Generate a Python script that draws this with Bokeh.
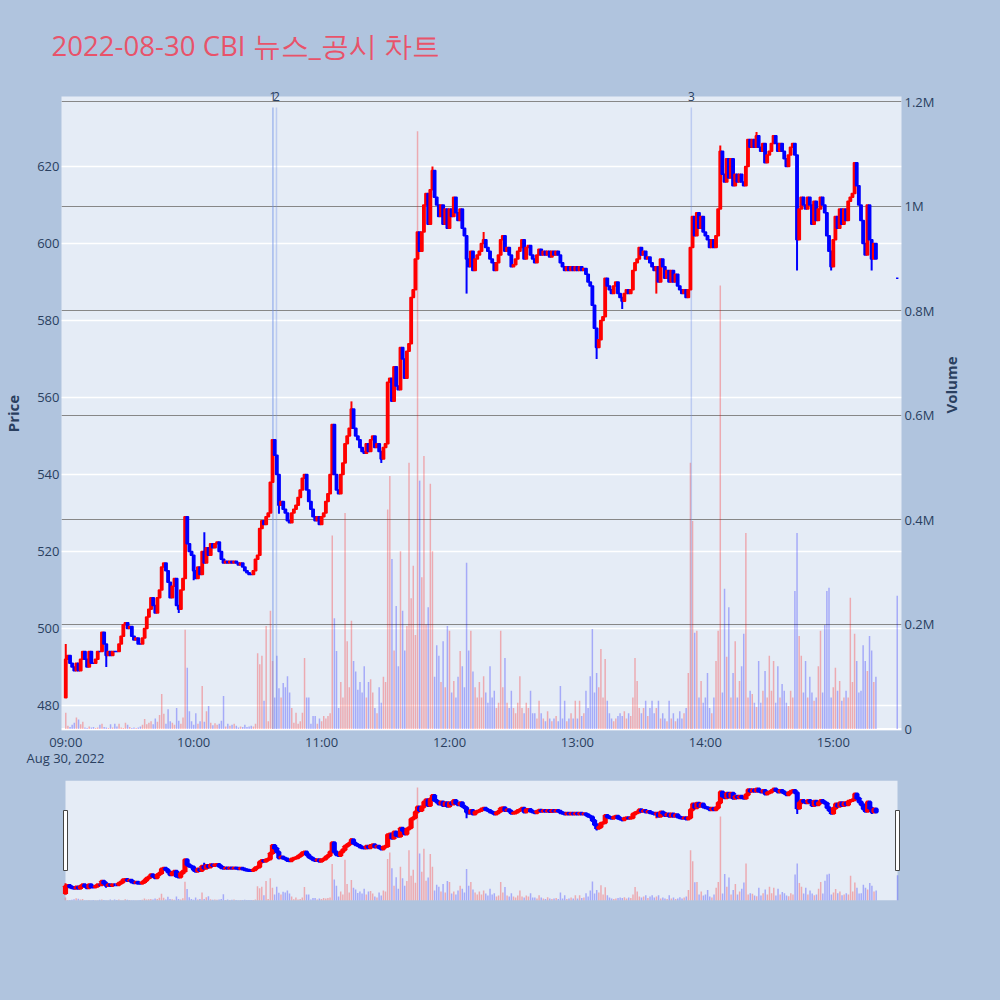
import math
import pandas as pd
from bokeh.plotting import figure
from bokeh.models import (ColumnDataSource, Range1d, LinearAxis, FixedTicker, Grid, Title,
                          DatetimeTickFormatter, BoxAnnotation, Span)
from bokeh.layouts import column
from bokeh.embed import file_html
from bokeh.resources import INLINE

# ---------------- data ----------------
TITLE = "2022-08-30 CBI 뉴스_공시 차트"
DATE_LABEL = "Aug 30, 2022"
session_start = "2022-08-30 09:00"     # first 1-minute bar
first_open = 482

# 1-minute closes, 09:00 .. 15:20
closes = [
    492, 493, 491, 490, 489, 491, 489, 492, 494, 492,
    490, 494, 491, 491, 492, 494, 494, 499, 496, 493,
    494, 493, 494, 494, 494, 496, 498, 501, 501.5, 500,
    500.5, 498, 497, 497.5, 496, 496, 497.5, 500, 503, 505,
    508, 506, 504, 508, 510, 516, 517, 515, 512, 508,
    511, 513, 506, 505, 510, 513, 529, 522, 520, 519,
    515, 513, 516, 514, 520, 517, 521, 519, 522, 521,
    522, 522.5, 520, 518, 517, 517.5, 517, 517.5, 517, 517.5,
    517, 516.5, 517, 516, 515, 514.5, 514, 514, 515, 518,
    519, 526, 528, 527, 529, 530, 538, 549, 545, 540,
    532, 533, 531, 530, 528, 527.5, 530, 531, 532, 534,
    536, 539, 540, 536, 533, 531, 529, 528, 529, 527,
    529, 530, 533, 535, 540, 553, 540, 536, 535, 540,
    543, 548, 550, 552, 557, 552, 550, 549, 547, 546,
    545.5, 548, 546, 549, 550, 547, 548, 546, 544, 547,
    548, 564, 565, 559, 568, 563, 562, 573, 570, 565,
    572, 574, 586, 588, 596, 603, 598, 603, 610, 613,
    605, 614, 619, 612, 610, 607, 610, 605, 609, 604,
    609, 607, 612, 608, 606, 609, 604, 602, 596, 594,
    598, 593, 596, 597, 598, 600, 601, 599, 598, 596,
    595, 593, 595, 597, 601, 602, 598, 599, 597, 594,
    594.5, 596, 598, 599, 601, 596, 599, 599.5, 597, 596,
    595, 597, 598.5, 597, 598, 597, 598, 596.5, 598, 597,
    598, 597, 595, 594, 593, 594, 593, 594, 593, 594,
    593, 594, 593, 593.5, 592, 590, 589, 584, 578, 573,
    575, 580, 581, 591, 589, 588, 587, 589, 590, 587,
    586, 585, 587, 588, 587, 588, 593, 595, 596, 599,
    597, 598, 596, 596.5, 595, 594, 593, 594, 590, 596,
    594, 591, 593, 590, 593, 590, 592, 589, 588, 587,
    588, 586, 588, 599, 607, 602, 608, 604, 607, 603,
    602, 601, 599, 601, 599, 602, 609, 624, 618, 616,
    622, 617, 622, 615, 618, 616, 618, 616, 615, 620,
    627, 625, 627, 625, 628, 625, 624, 626, 621, 623,
    624, 626, 628, 626, 624, 626, 624, 622, 620, 623,
    625, 626, 623, 601, 609, 612, 610, 609, 612, 610,
    605, 611, 606, 609, 612, 610, 608, 602, 598, 594,
    601, 607, 604, 609, 605, 609, 606, 611, 612, 613,
    621, 615, 610, 606, 600, 597, 610, 601, 596, 600,
    596,
]
# wick extremes that reach beyond the candle body (minute index -> price)
wick_high = {0: 496, 65: 525, 134: 559, 172: 620, 196: 603, 307: 625.5, 324: 629}
wick_low = {19: 490, 53: 504, 60: 512.5, 100: 529.8, 148: 543, 188: 587, 249: 570,
            261: 583, 277: 587, 343: 593, 359: 593, 378: 593}

# closing auction print
close_auction_time = "2022-08-30 15:30"
close_auction_price = 591
close_auction_volume_k = 255

# 1-minute volume, thousands of shares, 09:00 .. 15:20
volume_k = [
    31, 6, 4, 8, 12, 22, 18, 9, 14, 3,
    2, 5, 3, 4, 2, 3, 8, 10, 4, 3,
    2, 9, 3, 10, 5, 10, 3, 2, 12, 8,
    4, 2, 3, 2, 3, 5, 8, 19, 9, 12,
    15, 9, 20, 14, 27, 67, 29, 10, 38, 15,
    12, 8, 40, 16, 10, 22, 190, 117, 34, 15,
    8, 30, 10, 15, 82, 14, 34, 44, 12, 7,
    11, 8, 10, 16, 63, 5, 10, 6, 8, 10,
    6, 3, 5, 4, 8, 4, 5, 6, 5, 10,
    145, 124, 140, 54, 197, 15, 226, 130, 60, 140,
    78, 60, 88, 80, 101, 70, 40, 12, 31, 10,
    15, 31, 136, 60, 60, 10, 25, 25, 10, 20,
    15, 25, 20, 25, 30, 370, 212, 149, 40, 90,
    60, 413, 168, 80, 207, 130, 110, 75, 90, 70,
    120, 60, 90, 95, 70, 40, 30, 80, 50, 100,
    90, 420, 484, 325, 150, 235, 120, 340, 226, 150,
    197, 509, 250, 312, 180, 1143, 475, 290, 522, 200,
    233, 469, 340, 100, 160, 140, 90, 168, 80, 197,
    188, 70, 92, 60, 100, 149, 120, 80, 318, 150,
    188, 110, 80, 60, 90, 60, 101, 70, 50, 120,
    60, 73, 40, 50, 188, 80, 136, 50, 40, 73,
    40, 30, 50, 101, 40, 30, 50, 40, 73, 30,
    30, 20, 54, 30, 20, 15, 34, 20, 15, 20,
    25, 15, 82, 20, 54, 15, 20, 30, 20, 54,
    20, 54, 25, 30, 73, 40, 101, 191, 70, 107,
    80, 153, 60, 134, 54, 30, 20, 15, 20, 25,
    30, 25, 34, 20, 30, 25, 60, 136, 92, 40,
    30, 40, 54, 25, 40, 54, 30, 40, 54, 20,
    30, 20, 15, 54, 20, 30, 15, 20, 34, 20,
    30, 40, 107, 509, 398, 184, 188, 60, 92, 50,
    60, 107, 40, 30, 60, 130, 188, 848, 70, 268,
    138, 233, 60, 107, 168, 60, 92, 120, 182, 375,
    60, 73, 67, 50, 42, 130, 50, 73, 111, 60,
    140, 73, 130, 50, 120, 60, 86, 73, 50, 44,
    73, 60, 264, 375, 178, 140, 70, 130, 60, 100,
    70, 54, 60, 120, 188, 70, 199, 264, 270, 60,
    80, 117, 73, 92, 54, 60, 73, 60, 251, 90,
    182, 130, 70, 73, 160, 130, 111, 178, 150, 90,
    100,
]

# news / disclosure markers
news_times = ["2022-08-30 10:37:10", "2022-08-30 10:38:50", "2022-08-30 13:53:25"]
news_labels = ["1", "2", "3"]

price_ticks = [480, 500, 520, 540, 560, 580, 600, 620]
volume_ticks = [0, 200000, 400000, 600000, 800000, 1000000, 1200000]
volume_tick_labels = ["0", "0.2M", "0.4M", "0.6M", "0.8M", "1M", "1.2M"]
hour_ticks = ["2022-08-30 09:00", "2022-08-30 10:00", "2022-08-30 11:00", "2022-08-30 12:00",
              "2022-08-30 13:00", "2022-08-30 14:00", "2022-08-30 15:00"]

# ---------------- build ----------------
MIN = 60_000.0
EPOCH = pd.Timestamp("1970-01-01")


def to_ms(t):
    return (pd.Timestamp(t) - EPOCH) / pd.Timedelta(milliseconds=1)


t0 = to_ms(session_start)
xs = [t0 + i * MIN for i in range(len(closes))] + [to_ms(close_auction_time)]
cl = list(closes) + [close_auction_price]
op = [first_open] + list(closes[:-1]) + [close_auction_price]
hi = [wick_high.get(i, max(o, c)) for i, (o, c) in enumerate(zip(op, cl))]
lo = [wick_low.get(i, min(o, c)) for i, (o, c) in enumerate(zip(op, cl))]
vol = [v * 1000 for v in volume_k] + [close_auction_volume_k * 1000]
col = ["#ff0000" if c > o else "#0000ff" for o, c in zip(op, cl)]

src = ColumnDataSource(dict(
    x=xs, open=op, close=cl, high=hi, low=lo, vol=vol, color=col,
    top=[max(o, c) for o, c in zip(op, cl)],
    bottom=[min(o, c) for o, c in zip(op, cl)],
))

INK = "#2a3f5f"
PAPER = "#b0c4de"
PLOTBG = "#e5ecf6"
FONT = "Open Sans"

x_start, x_end = xs[0], xs[-1]
vmax = max(vol)

# ---------------- main panel ----------------
FL, FR, FT, FB = 61, 901, 96, 730
XR = (x_start - 2 * MIN, x_end + 2 * MIN)
YR = (473.5, 638.2)

p = figure(width=1000, height=772, x_axis_type="datetime", title=None,
           x_range=Range1d(*XR), y_range=Range1d(*YR),
           output_backend="svg", toolbar_location=None,
           min_border_left=FL, min_border_right=1000 - FR, min_border_top=FT,
           min_border_bottom=772 - FB,
           background_fill_color=PLOTBG, border_fill_color=PAPER, outline_line_color=None)
p.extra_y_ranges = {"vol": Range1d(-2870, 1209570)}
xax = p.below[0]
yax = p.left[0]

# grids
p.xgrid.grid_line_color = None
p.ygrid.ticker = FixedTicker(ticks=price_ticks)
p.ygrid.grid_line_color = "white"
p.ygrid.grid_line_width = 1.5
vgrid = Grid(dimension=1, ticker=FixedTicker(ticks=volume_ticks[1:]), y_range_name="vol",
             grid_line_color="#878787", grid_line_width=1.2)
p.add_layout(vgrid)
p.add_layout(Span(location=0, dimension="width", y_range_name="vol",
                  line_color="white", line_width=2, level="underlay"))

# volume bars
p.vbar(x="x", top="vol", bottom=0, width=0.7 * MIN, source=src, y_range_name="vol",
       fill_color="color", fill_alpha=0.28, line_color=None)

# news lines
news_x = [to_ms(t) for t in news_times]
p.segment(x0=news_x, y0=[0] * len(news_x), x1=news_x, y1=[vmax * 1.04] * len(news_x),
          y_range_name="vol", line_color="#6f8fe8", line_alpha=[0.55, 0.35, 0.35],
          line_width=1.5)

# candles
p.segment(x0="x", y0="low", x1="x", y1="high", source=src, line_color="color", line_width=2)
p.vbar(x="x", top="top", bottom="bottom", width=1.1 * MIN, source=src,
       fill_color="color", line_color="color", line_width=1.5)

# axes
yax.ticker = FixedTicker(ticks=price_ticks)
xax.ticker = FixedTicker(ticks=[to_ms(t) for t in hour_ticks])
xax.formatter = DatetimeTickFormatter(hours="%H:%M", hourmin="%H:%M", minutes="%H:%M")
for ax in (xax, yax):
    ax.axis_line_color = None
    ax.major_tick_line_color = None
    ax.minor_tick_line_color = None
    ax.major_tick_out = 0
    ax.minor_tick_out = 0
    ax.major_tick_in = 0
    ax.minor_tick_in = 0
    ax.major_label_text_font = FONT
    ax.major_label_text_font_size = "13px"
    ax.major_label_text_color = INK
xax.major_label_standoff = 2
yax.major_label_standoff = 2
yax.axis_label = "Price"
yax.axis_label_text_font = FONT
yax.axis_label_text_font_size = "15px"
yax.axis_label_text_font_style = "bold"
yax.axis_label_text_color = INK
yax.axis_label_standoff = 11

vaxis = LinearAxis(y_range_name="vol", ticker=FixedTicker(ticks=volume_ticks),
                   major_label_overrides={k: v for k, v in zip(volume_ticks, volume_tick_labels)},
                   axis_label="Volume", axis_label_text_font=FONT, axis_label_text_font_size="15px",
                   axis_label_text_font_style="bold", axis_label_text_color=INK,
                   axis_label_standoff=14, axis_label_orientation=math.pi / 2,
                   axis_line_color=None, major_tick_line_color=None, minor_tick_line_color=None,
                   major_tick_out=0, minor_tick_out=0, major_tick_in=0, minor_tick_in=0,
                   major_label_text_font=FONT, major_label_text_font_size="13px",
                   major_label_text_color=INK, major_label_standoff=3)
p.add_layout(vaxis, "right")

# news numbers on an axis hugging the top edge of the frame
naxis = LinearAxis(ticker=FixedTicker(ticks=news_x),
                   major_label_overrides={k: v for k, v in zip(news_x, news_labels)},
                   axis_line_color=None, major_tick_line_color=None, minor_tick_line_color=None,
                   major_tick_out=0, minor_tick_out=0, major_tick_in=0, minor_tick_in=0,
                   major_label_text_font=FONT, major_label_text_font_size="12px",
                   major_label_text_color=INK, major_label_standoff=-4)
p.add_layout(naxis, "above")
# chart title, lifted towards the top of the page by its standoff
p.add_layout(Title(text=TITLE, align="left", offset=-10, vertical_align="top", standoff=46,
                   text_font=FONT, text_font_size="27.6px", text_font_style="normal",
                   text_color="#e8536a"), "above")

# date context under the first time tick
p.add_layout(Title(text=DATE_LABEL, align="left", offset=-35, vertical_align="top", standoff=-10,
                   text_font=FONT, text_font_size="13px", text_font_style="normal",
                   text_color=INK), "below")

# ---------------- range slider ----------------
s = figure(width=1000, height=228, x_axis_type="datetime", title=None,
           x_range=Range1d(x_start - 1.875 * MIN, x_end + 1.875 * MIN),
           y_range=Range1d(472, 640),
           x_axis_location=None, y_axis_location=None,
           output_backend="svg", toolbar_location=None,
           min_border_left=FL, min_border_right=1000 - FR, min_border_top=8, min_border_bottom=100,
           background_fill_color=PAPER, border_fill_color=PAPER, outline_line_color=None)
s.extra_y_ranges = {"vol": Range1d(0, 1213000)}
s.xgrid.grid_line_color = None
s.ygrid.grid_line_color = None
s.add_layout(BoxAnnotation(left=x_start, right=x_end, fill_color=PLOTBG, fill_alpha=1.0,
                           line_color=None, level="underlay"))
s.vbar(x="x", top="vol", bottom=0, width=0.7 * MIN, source=src, y_range_name="vol",
       fill_color="color", fill_alpha=0.28, line_color=None)
s.segment(x0="x", y0="low", x1="x", y1="high", source=src, line_color="color", line_width=2)
s.vbar(x="x", top="top", bottom="bottom", width=1.0 * MIN, source=src,
       fill_color="color", line_color="color", line_width=3)
mid = (472 + 640) / 2
s.rect(x=[x_start, x_end], y=[mid, mid], width=4, height=60, width_units="screen",
       height_units="screen", fill_color="white", line_color="#444444", line_width=1)

layout = column(p, s, spacing=0)
layout.styles = {"background-color": PAPER}
html = file_html(layout, INLINE, title=TITLE)
html = html.replace("<body>", '<body style="margin:0;background:#b0c4de;">', 1)
html = html.replace("<html", '<html style="background:#b0c4de"', 1)
open("out.html", "w").write(html)
